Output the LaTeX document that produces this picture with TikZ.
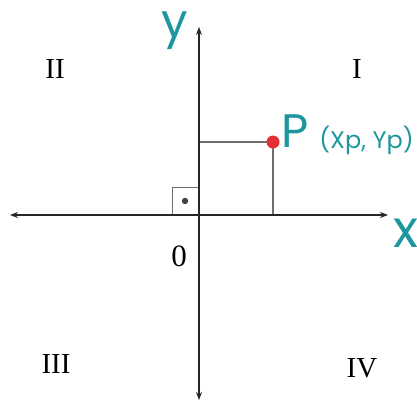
\documentclass[tikz,border=0pt]{standalone}
\usepackage{fontspec}
\setmainfont{Liberation Serif}
\newfontfamily\labelfont{Poppins}
\usetikzlibrary{arrows.meta}
\definecolor{tealc}{RGB}{30,150,158}
\definecolor{redc}{RGB}{228,48,52}
\definecolor{greyc}{RGB}{110,110,110}
\tikzset{
  axis/.style={line width=1.6pt, black!85, {Stealth[length=8pt,width=6pt]}-{Stealth[length=8pt,width=6pt]}},
  guide/.style={line width=1.1pt, greyc},
  quad/.style={font=\fontsize{29}{32}\selectfont, inner sep=0pt},
  axlabel/.style={text=tealc, inner sep=0pt},
}
\begin{document}
\begin{tikzpicture}[x=1pt,y=-1pt]
\useasboundingbox (0,0) rectangle (417,401);
\coordinate (O) at (199,215);
\coordinate (L) at (10,215);
\coordinate (R) at (388,215);
\coordinate (T) at (199,27);
\coordinate (B) at (199,400);
% right angle box
\coordinate (b1) at (172,215);
\coordinate (b2) at (172,187);
\coordinate (b3) at (199,187);
\draw[line width=0.9pt, greyc] (b1) -- (b2) -- (b3);
\fill[black!75] (185,201) circle (3.2);
% guides to P
\coordinate (Pc) at (273,142);
\draw[guide] (Pc) -- (Pc |- O);
\draw[guide] (Pc) -- (Pc -| O);
% axes
\draw[axis] (L) -- (R);
\draw[axis] (B) -- (T);
% point
\node[circle, fill=redc, minimum size=13pt, inner sep=0pt] (p) at (Pc) {};
% labels
\node[axlabel, font=\labelfont\fontsize{47}{50}\selectfont] (ylab) at (175,30.5) {y};
\node[axlabel, font=\labelfont\fontsize{52}{55}\selectfont] (xlab) at (406,233) {x};
\node[axlabel, font=\labelfont\fontsize{47}{50}\selectfont] (plab) at (295,131.5) {P};
\node[axlabel, font=\labelfont\fontsize{24}{27}\selectfont] (coord) at (366.5,140) {(Xp, Yp)};
\node[quad] (q2) at (55,69) {II};
\node[quad] (q1) at (357,69) {I};
\node[quad] (q3) at (56,364) {III};
\node[quad] (q4) at (362,368) {IV};
\node[font=\fontsize{31}{34}\selectfont, inner sep=0pt] (zero) at (179,256) {0};
\end{tikzpicture}
\end{document}
